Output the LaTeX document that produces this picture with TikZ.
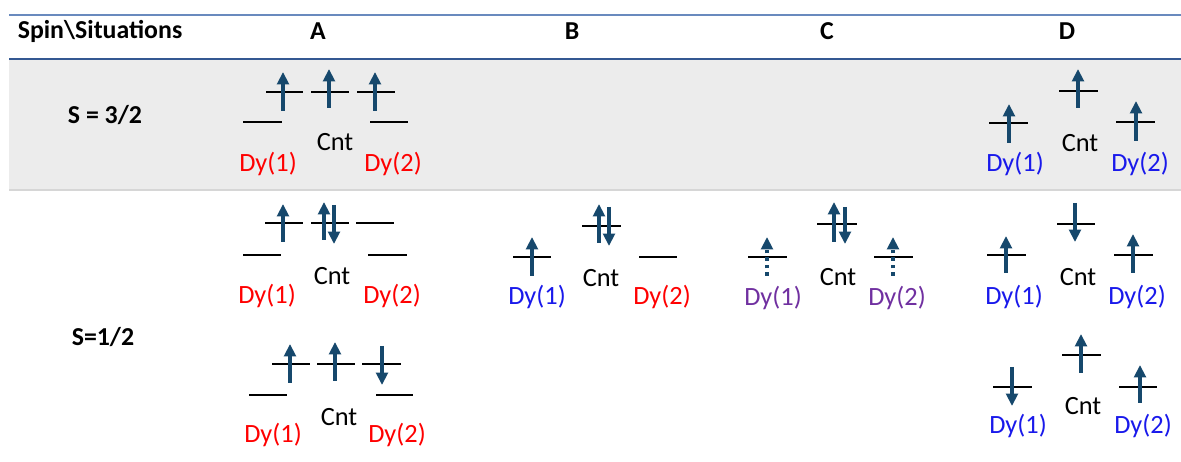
\documentclass[tikz,border=0pt]{standalone}
\usepackage{fontspec}
\setmainfont{Carlito}
\usepackage{xcolor}
\usetikzlibrary{arrows.meta}
\definecolor{spinblue}{RGB}{22,72,108}
\definecolor{rulelight}{RGB}{105,138,190}
\definecolor{ruledark}{RGB}{52,88,146}
\definecolor{bandgray}{RGB}{236,236,236}
\definecolor{bandedge}{RGB}{214,214,214}
\definecolor{dypurple}{RGB}{112,48,160}
\definecolor{dyblue}{RGB}{25,25,235}

\begin{document}
\begin{tikzpicture}[
  x=0.02cm, y=-0.02cm,
  lvl/.style={line width=1.1pt, black},
  spin/.style={line width=2.1pt, draw=spinblue,
               -{Triangle[width=6.6pt, length=7pt]}},
  halfspin/.style={spin, dash pattern=on 2pt off 2.3pt},
  lab/.style={font=\fontsize{15}{18}\selectfont, inner sep=0pt},
  head/.style={font=\fontsize{14.7}{17}\selectfont\bfseries, inner sep=0pt},
  dyred/.style={lab, text=red},
  dyblue/.style={lab, text=dyblue},
  dypurple/.style={lab, text=dypurple},
]
  \useasboundingbox (0,0) rectangle (1181,462);

  % Table rules and shaded row
  \fill[bandgray] (9,60) rectangle (1181,190);
  \draw[bandedge, line width=1.2pt] (9,190) -- (1181,190);
  \draw[rulelight, line width=1.1pt] (9,15) -- (1181,15);
  \draw[ruledark, line width=1.4pt] (9,59) -- (1181,59);

  % Column headers
  \node[head] (hspin) at (100,31) {Spin\textbackslash Situations};
  \node[head] (hA) at (318,31) {A};
  \node[head] (hB) at (572,31) {B};
  \node[head] (hC) at (827,31) {C};
  \node[head] (hD) at (1067,31) {D};

  % Row headers
  \node[head] (r32) at (105,115) {S = 3/2};
  \node[head] (r12) at (103,337) {S=1/2};

  % S = 3/2, A
  \draw[lvl] (243,122) -- (282,122);
  \draw[lvl] (266,92) -- (303,92);
  \draw[lvl] (311,92) -- (349,92);
  \draw[lvl] (357,92) -- (395,92);
  \draw[lvl] (370,122) -- (408,122);
  \draw[spin] (283,111) -- (283,72);
  \draw[spin] (329,108) -- (329,69);
  \draw[spin] (375,111) -- (375,72);
  \node[dyred] (tAdy1) at (268,164) {Dy(1)};
  \node[lab] (tAcnt) at (335,142) {Cnt};
  \node[dyred] (tAdy2) at (393,164) {Dy(2)};

  % S = 3/2, D
  \draw[lvl] (989,123) -- (1028,123);
  \draw[lvl] (1059,91) -- (1098,91);
  \draw[lvl] (1116,122) -- (1155,122);
  \draw[spin] (1009,143) -- (1009,104);
  \draw[spin] (1078,108) -- (1078,69);
  \draw[spin] (1136,141) -- (1136,101);
  \node[dyblue] (tDdy1) at (1015,164) {Dy(1)};
  \node[lab] (tDcnt) at (1080,143) {Cnt};
  \node[dyblue] (tDdy2) at (1140,164) {Dy(2)};

  % S = 1/2, A (upper)
  \draw[lvl] (243,255) -- (281,255);
  \draw[lvl] (265,223) -- (303,223);
  \draw[lvl] (311,223) -- (349,223);
  \draw[lvl] (356,223) -- (394,223);
  \draw[lvl] (368,255) -- (407,255);
  \draw[spin] (283,242) -- (283,204);
  \draw[spin] (324,240) -- (324,202);
  \draw[spin] (334,205) -- (334,244);
  \node[dyred] (uAdy1) at (267,296) {Dy(1)};
  \node[lab] (uAcnt) at (332,276) {Cnt};
  \node[dyred] (uAdy2) at (392,296) {Dy(2)};

  % S = 1/2, B
  \draw[lvl] (513,257) -- (551,257);
  \draw[lvl] (582,226) -- (621,226);
  \draw[lvl] (639,257) -- (677,257);
  \draw[spin] (532,276) -- (532,237);
  \draw[spin] (599,243) -- (599,204);
  \draw[spin] (609,207) -- (609,246);
  \node[dyblue] (uBdy1) at (537,297) {Dy(1)};
  \node[lab] (uBcnt) at (601,278) {Cnt};
  \node[dyred] (uBdy2) at (662,297) {Dy(2)};

  % S = 1/2, C
  \draw[lvl] (748,257) -- (787,257);
  \draw[lvl] (817,224) -- (857,224);
  \draw[lvl] (874,257) -- (913,257);
  \draw[halfspin] (767,276) -- (767,237);
  \draw[spin] (834,242) -- (834,202);
  \draw[spin] (845,207) -- (845,244);
  \draw[halfspin] (893,276) -- (893,237);
  \node[dypurple] (uCdy1) at (773,298) {Dy(1)};
  \node[lab] (uCcnt) at (838,277) {Cnt};
  \node[dypurple] (uCdy2) at (897,298) {Dy(2)};

  % S = 1/2, D (upper)
  \draw[lvl] (987,255) -- (1026,255);
  \draw[lvl] (1057,224) -- (1095,224);
  \draw[lvl] (1114,255) -- (1153,255);
  \draw[spin] (1006,273) -- (1006,236);
  \draw[spin] (1075,203) -- (1075,242);
  \draw[spin] (1133,273) -- (1133,234);
  \node[dyblue] (uDdy1) at (1014,297) {Dy(1)};
  \node[lab] (uDcnt) at (1078,277) {Cnt};
  \node[dyblue] (uDdy2) at (1137,297) {Dy(2)};

  % S = 1/2, A (lower)
  \draw[lvl] (249,395) -- (287,395);
  \draw[lvl] (272,364) -- (310,364);
  \draw[lvl] (317,364) -- (355,364);
  \draw[lvl] (362,364) -- (401,364);
  \draw[lvl] (376,395) -- (413,395);
  \draw[spin] (290,383) -- (290,344);
  \draw[spin] (335,381) -- (335,342);
  \draw[spin] (382,346) -- (382,385);
  \node[dyred] (lAdy1) at (273,435) {Dy(1)};
  \node[lab] (lAcnt) at (339,417) {Cnt};
  \node[dyred] (lAdy2) at (397,435) {Dy(2)};

  % S = 1/2, D (lower)
  \draw[lvl] (993,387) -- (1032,387);
  \draw[lvl] (1062,355) -- (1101,355);
  \draw[lvl] (1119,387) -- (1157,387);
  \draw[spin] (1012,367) -- (1012,406);
  \draw[spin] (1081,373) -- (1081,334);
  \draw[spin] (1140,403) -- (1140,365);
  \node[dyblue] (lDdy1) at (1018,426) {Dy(1)};
  \node[lab] (lDcnt) at (1083,406) {Cnt};
  \node[dyblue] (lDdy2) at (1143,426) {Dy(2)};

\end{tikzpicture}
\end{document}
